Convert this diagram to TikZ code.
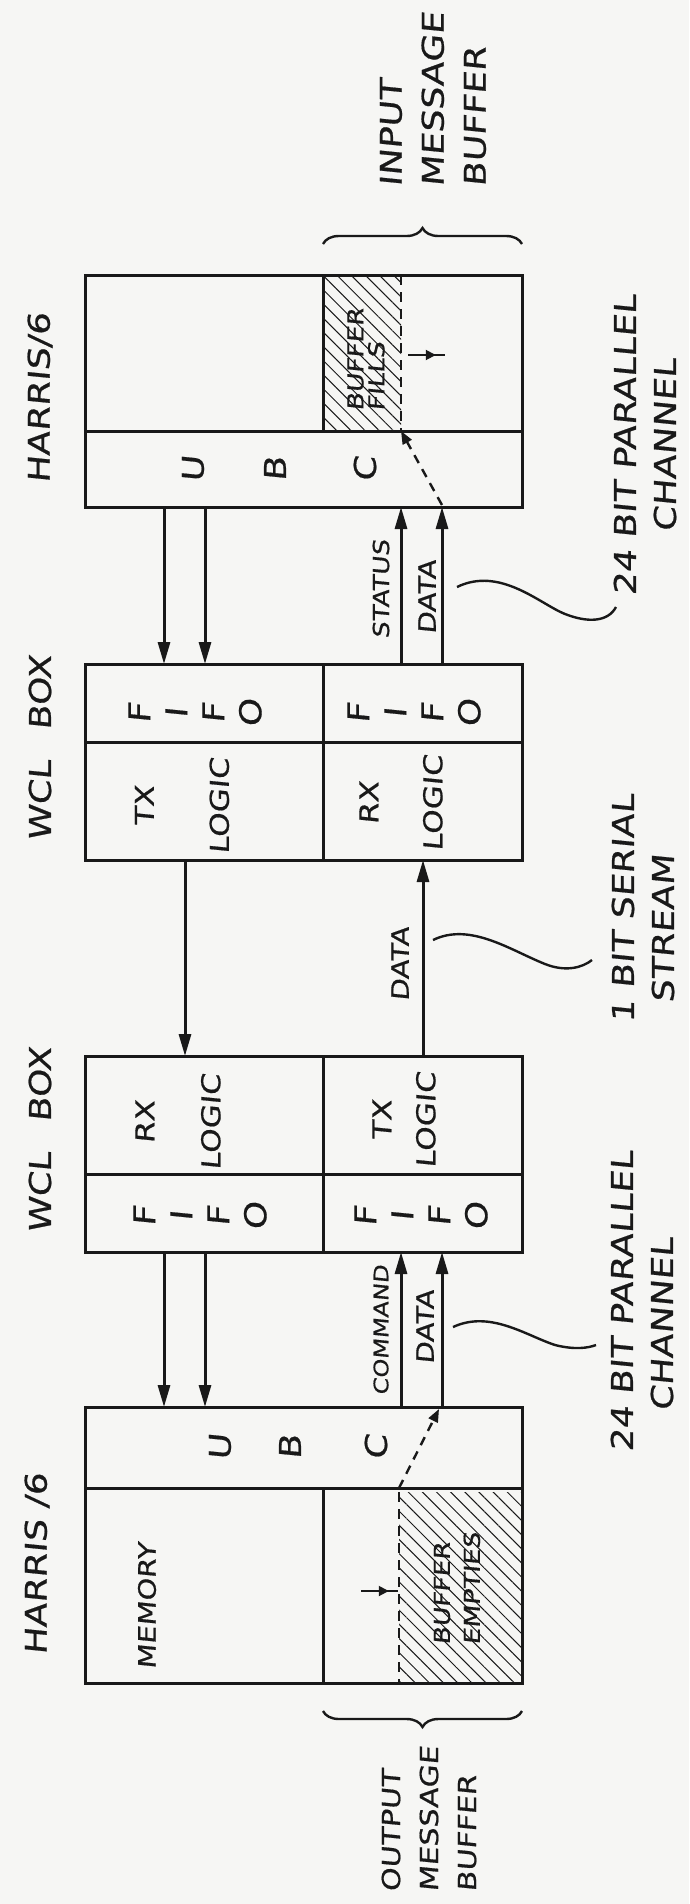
\documentclass[tikz,border=0pt]{standalone}
\usepackage{fontspec}
\newfontfamily\handfont[FakeStretch=1.2, FakeSlant=0.1, FakeBold=0.6]{DejaVu Sans}
\usetikzlibrary{arrows.meta, calc, decorations.pathreplacing, decorations.markings, patterns.meta, backgrounds}
\definecolor{paper}{RGB}{246,246,244}
\definecolor{ink}{RGB}{25,25,25}

\begin{document}
\begin{tikzpicture}[
		x=1pt, y=-1pt,
		>={Triangle[length=22pt, width=12pt]},
		cell/.style={draw=ink, line width=3pt, inner sep=0pt, outer sep=0pt},
		lbl/.style={rotate=90, inner sep=0pt, text=ink, align=center, font=\handfont\fontsize{30}{42}\selectfont},
		sig/.style={lbl, font=\handfont\fontsize{24}{28}\selectfont},
		fifo/.style={lbl, font=\handfont\fontsize{30}{37}\selectfont},
		logic/.style={lbl, font=\handfont\fontsize{26}{32}\selectfont},
		link/.style={->, draw=ink, line width=3pt},
		flow/.style={-{Triangle[length=13pt, width=10pt]}, draw=ink, line width=2.4pt, dash pattern=on 9pt off 7pt},
		bufedge/.style={draw=ink, line width=2.4pt, dash pattern=on 10pt off 7pt},
		hatch/.style={pattern={Lines[angle=-45, distance=10pt, line width=1pt]}, pattern color=ink},
		pointer/.style={draw=ink, line width=2pt, postaction={decorate}, decoration={markings, mark=at position 0.75 with {\arrow{Triangle[length=10pt, width=10pt]}}}},
		leader/.style={draw=ink, line width=2.4pt},
		curly/.style={draw=ink, line width=2.4pt, decorate, decoration={brace, amplitude=16pt}}
		]
		
		\useasboundingbox (0,0) rectangle (689,1904);
		\begin{scope}[on background layer]
			\fill[paper] (0,0) rectangle (689,1904);
		\end{scope}
		
		% ==========================================
		% 1. HARRIS/6 (receiving side)
		% ==========================================
		\node[cell, minimum width=238, minimum height=156] (h1_mem) at (204,353) {};
		\node[cell, minimum width=199, minimum height=156] (h1_buf) at (422.5,353) {};
		\node[cell, minimum width=437, minimum height=76] (h1_ubc) at (303.5,469) {};
		\node[lbl] (h1_title) at (40,398) {HARRIS/6};
		
		% buffer fills up to the dashed edge
		\begin{scope}[on background layer]
			\fill[hatch] (h1_buf.north west) rectangle ($(h1_buf.south west)+(78,0)$);
		\end{scope}
		\draw[bufedge] ($(h1_buf.north west)+(78,0)$) -- ($(h1_buf.south west)+(78,0)$);
		\node[lbl, font=\handfont\fontsize{22}{21}\selectfont, align=left, anchor=west] (h1_fills) at (366,411) {BUFFER\\FILLS};
		\draw[pointer] ($(h1_buf.north west)+(85,80)$) -- ($(h1_buf.north west)+(122,80)$);
		
		\node[lbl] (h1_u) at (193,469) {U};
		\node[lbl] (h1_b) at (275,469) {B};
		\node[lbl] (h1_c) at (365,469) {C};
		
		\draw[curly] ($(h1_buf.north west)+(0,-31)$) -- ($(h1_buf.north east)+(0,-31)$);
		\node[lbl, align=left, anchor=west] (h1_note) at (433,187) {INPUT\\MESSAGE\\BUFFER};
		
		% ==========================================
		% 2. WCL BOX (receiving side)
		% ==========================================
		\node[cell, minimum width=238, minimum height=78] (w1_fifoL) at (204,703) {};
		\node[cell, minimum width=199, minimum height=78] (w1_fifoR) at (422.5,703) {};
		\node[cell, minimum width=238, minimum height=118] (w1_logL) at (204,801) {};
		\node[cell, minimum width=199, minimum height=118] (w1_logR) at (422.5,801) {};
		\node[lbl] (w1_title) at (40,748) {WCL\quad BOX};
		
		\node[fifo] (w1_fifoL_txt) at (195,713) {F\\I\\F\\O};
		\node[fifo] (w1_fifoR_txt) at (414,713) {F\\I\\F\\O};
		\node[logic] (w1_logL_txt) at (182,806) {TX\\[43pt]LOGIC};
		\node[logic] (w1_logR_txt) at (401,803) {RX\\[32pt]LOGIC};
		
		% ==========================================
		% 3. WCL BOX (sending side)
		% ==========================================
		\node[cell, minimum width=238, minimum height=118] (w2_logL) at (204,1115) {};
		\node[cell, minimum width=199, minimum height=118] (w2_logR) at (422.5,1115) {};
		\node[cell, minimum width=238, minimum height=78] (w2_fifoL) at (204,1213) {};
		\node[cell, minimum width=199, minimum height=78] (w2_fifoR) at (422.5,1213) {};
		\node[lbl] (w2_title) at (40,1140) {WCL\quad BOX};
		
		\node[logic] (w2_logL_txt) at (178,1122) {RX\\[34pt]LOGIC};
		\node[logic] (w2_logR_txt) at (404,1120) {TX\\[12pt]LOGIC};
		\node[fifo] (w2_fifoL_txt) at (200,1216) {F\\I\\F\\O};
		\node[fifo] (w2_fifoR_txt) at (421,1216) {F\\I\\F\\O};
		
		% ==========================================
		% 4. HARRIS /6 (sending side)
		% ==========================================
		\node[cell, minimum width=437, minimum height=81] (h2_ubc) at (303.5,1447.5) {};
		\node[cell, minimum width=238, minimum height=195] (h2_mem) at (204,1585.5) {};
		\node[cell, minimum width=199, minimum height=195] (h2_buf) at (422.5,1585.5) {};
		\node[lbl] (h2_title) at (37,1564) {HARRIS /6};
		\node[lbl, font=\handfont\fontsize{24}{28}\selectfont] (h2_memory) at (147,1606) {MEMORY};
		
		% buffer empties from the dashed edge
		\begin{scope}[on background layer]
			\fill[hatch] ($(h2_buf.north west)+(76,4)$) rectangle (h2_buf.south east);
		\end{scope}
		\draw[bufedge] ($(h2_buf.north west)+(76,4)$) -- ($(h2_buf.south west)+(76,0)$);
		\node[lbl, font=\handfont\fontsize{22}{30}\selectfont, align=left, anchor=west] (h2_empties) at (457,1645) {BUFFER\\EMPTIES};
		\draw[pointer] ($(h2_buf.north west)+(38,103)$) -- ($(h2_buf.north west)+(75,103)$);
		
		\node[lbl] (h2_u) at (220,1447) {U};
		\node[lbl] (h2_b) at (290,1447) {B};
		\node[lbl] (h2_c) at (376,1447) {C};
		
		\draw[curly] ($(h2_buf.south east)+(0,28)$) -- ($(h2_buf.south west)+(0,28)$);
		\node[lbl, font=\handfont\fontsize{25}{38}\selectfont, align=left, anchor=west] (h2_note) at (429,1892) {OUTPUT\\MESSAGE\\BUFFER};
		
		% ==========================================
		% 5. CHANNELS
		% ==========================================
		% parallel channel, top
		\draw[link] ([xshift=79pt]h1_ubc.south west) -- ([xshift=79pt]w1_fifoL.north west);
		\draw[link] ([xshift=120pt]h1_ubc.south west) -- ([xshift=120pt]w1_fifoL.north west);
		\draw[link] ($(w1_fifoR.north west)+(78,0)$) -- ($(w1_fifoR.north west |- h1_ubc.south)+(78,0)$);
		\draw[link] ($(w1_fifoR.north west)+(119,0)$) -- ($(w1_fifoR.north west |- h1_ubc.south)+(119,0)$);
		\draw[flow] ($(w1_fifoR.north west |- h1_ubc.south)+(119,-2)$) -- ($(h1_buf.south west)+(78,0)$);
		\node[sig, font=\handfont\fontsize{22}{26}\selectfont] (sig_status) at (381,589) {STATUS};
		\node[sig] (sig_data_a) at (427,597) {DATA};
		
		% serial stream
		\draw[link] ([xshift=100pt]w1_logL.south west) -- ([xshift=100pt]w2_logL.north west);
		\draw[link] ([xshift=100pt]w2_logR.north west) -- ([xshift=100pt]w1_logR.south west);
		\node[sig] (sig_data_b) at (400,964) {DATA};
		
		% parallel channel, bottom
		\draw[link] ([xshift=79pt]w2_fifoL.south west) -- ([xshift=79pt]h2_ubc.north west);
		\draw[link] ([xshift=120pt]w2_fifoL.south west) -- ([xshift=120pt]h2_ubc.north west);
		\draw[link] ($(w2_fifoR.south west |- h2_ubc.north)+(78,0)$) -- ($(w2_fifoR.south west)+(78,0)$);
		\draw[link] ($(w2_fifoR.south west |- h2_ubc.north)+(119,0)$) -- ($(w2_fifoR.south west)+(119,0)$);
		\draw[flow] ($(h2_buf.north west)+(76,0)$) -- ($(w2_fifoR.south west |- h2_ubc.north)+(116,2)$);
		\node[sig, font=\handfont\fontsize{20}{24}\selectfont] (sig_command) at (381,1330) {COMMAND};
		\node[sig] (sig_data_c) at (425,1327) {DATA};
		
		% ==========================================
		% 6. CHANNEL NOTES
		% ==========================================
		\node[lbl, font=\handfont\fontsize{30}{40}\selectfont] (ch_par_top) at (645,445) {24 BIT PARALLEL\\CHANNEL};
		\node[lbl, font=\handfont\fontsize{30}{40}\selectfont, align=left, anchor=west] (ch_serial) at (643,1023) {1 BIT SERIAL\\\hspace*{20pt}STREAM};
		\node[lbl, font=\handfont\fontsize{30}{40}\selectfont, align=left, anchor=west] (ch_par_bot) at (642,1452) {24 BIT PARALLEL\\\hspace*{41pt}CHANNEL};
		
		\coordinate (lead_a0) at (457,587);
		\coordinate (lead_a1) at (616,607);
		\coordinate (lead_b0) at (433,940);
		\coordinate (lead_b1) at (592,960);
		\coordinate (lead_c0) at (453,1327);
		\coordinate (lead_c1) at (596,1345);
		\draw[leader] (lead_a0) .. controls (500,566) and (540,604) .. (565,614) .. controls (588,623) and (608,622) .. (lead_a1);
		\draw[leader] (lead_b0) .. controls (470,922) and (510,950) .. (545,964) .. controls (565,972) and (582,968) .. (lead_b1);
		\draw[leader] (lead_c0) .. controls (490,1310) and (525,1335) .. (555,1345) .. controls (575,1350) and (588,1348) .. (lead_c1);
		
	\end{tikzpicture}
\end{document}
